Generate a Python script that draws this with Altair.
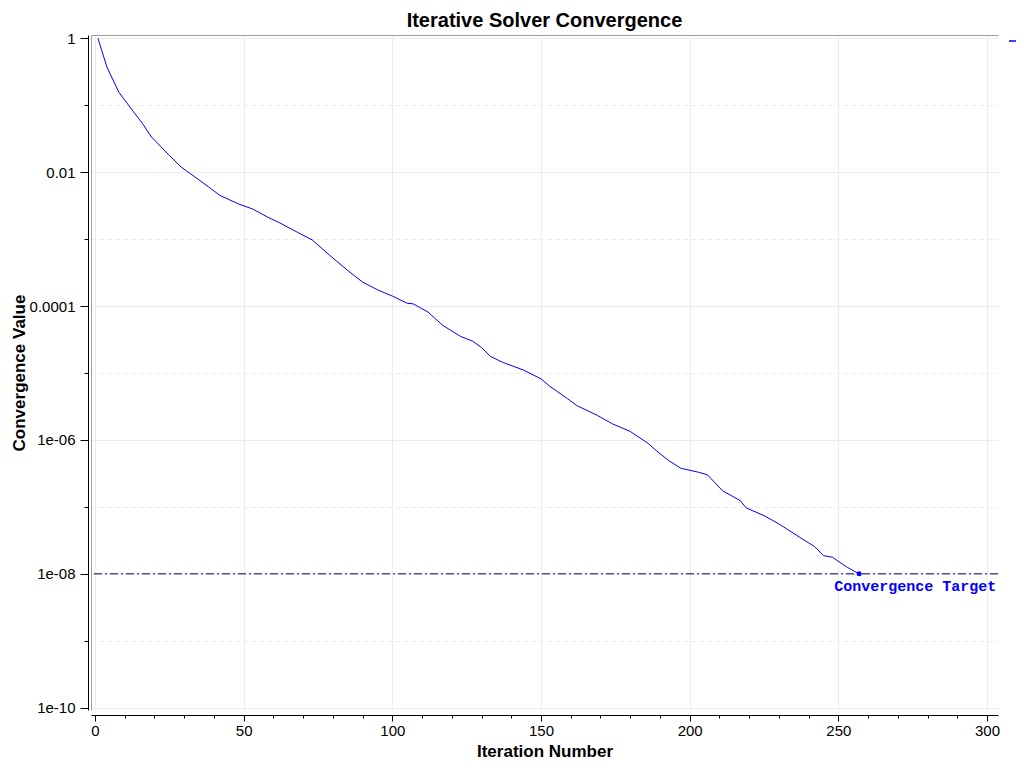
import math
import altair as alt
import pandas as pd

# ---- data ----
iterations = [1, 4, 8, 13, 16, 19, 25, 29, 36, 42,
              48, 53, 58, 62, 68, 73, 79, 85, 90, 95,
              100, 105, 107, 112, 117, 123, 127, 130, 133, 137,
              144, 150, 153, 159, 162, 169, 174, 180, 186, 189,
              193, 197, 203, 206, 211, 217, 219, 225, 230, 237,
              242, 245, 248, 253, 257]
values = [1.0, 0.372, 0.157, 0.0794, 0.0531, 0.0335, 0.0178, 0.0119, 0.00711, 0.0045,
          0.00339, 0.00282, 0.00214, 0.00176, 0.00127, 0.000977, 0.00057, 0.00034, 0.000228, 0.000175,
          0.000141, 0.00011, 0.000108, 8.13e-5, 5.13e-5, 3.51e-5, 2.99e-5, 2.4e-5, 1.77e-5, 1.45e-5,
          1.11e-5, 8.18e-6, 6.31e-6, 4.11e-6, 3.27e-6, 2.32e-6, 1.74e-6, 1.34e-6, 8.9e-7, 6.78e-7,
          4.9e-7, 3.78e-7, 3.29e-7, 3.01e-7, 1.75e-7, 1.24e-7, 9.66e-8, 7.41e-8, 5.57e-8, 3.52e-8,
          2.55e-8, 1.87e-8, 1.77e-8, 1.25e-8, 1.0e-8]

target_iteration = [257]
target_value = [1e-8]
target_label = ["Convergence Target"]

x_major_ticks = [0, 50, 100, 150, 200, 250, 300]
x_minor_ticks = [0, 10, 20, 30, 40, 50, 60, 70, 80, 90, 100, 110, 120, 130, 140, 150,
                 160, 170, 180, 190, 200, 210, 220, 230, 240, 250, 260, 270, 280, 290, 300]
y_major_ticks = [1, 1e-2, 1e-4, 1e-6, 1e-8, 1e-10]
y_major_labels = ["1", "0.01", "0.0001", "1e-06", "1e-08", "1e-10"]
y_minor_ticks = [1e-1, 1e-3, 1e-5, 1e-7, 1e-9]

# ---- tables ----
df = pd.DataFrame({"iteration": iterations, "value": values,
                   "series": ["residual"] * len(iterations)})
tgt = pd.DataFrame({"iteration": target_iteration, "value": target_value,
                    "label": target_label})

FONT = "Liberation Sans"
BLUE = "#0000ff"
GRID = "#ebebeb"

xs = alt.Scale(domain=[-1.345, 303.7], nice=False, zero=False)
ys = alt.Scale(type="log", domain=[9.24e-11, 1.12], nice=False)

exps = [round(math.log10(v)) for v in y_major_ticks]
label_expr = ("[" + ",".join(f"'{l}'" for l in y_major_labels) + "][indexof(["
              + ",".join(str(e) for e in exps) + "], round(log(datum.value)/LN10))]")

line = alt.Chart(df).mark_line(strokeWidth=1).encode(
    x=alt.X("iteration:Q", scale=xs,
            axis=alt.Axis(values=x_major_ticks, orient="bottom", offset=5, tickSize=6,
                          labelFontSize=15, labelFont=FONT, labelColor="black", labelPadding=2,
                          labelFlush=False,
                          title="Iteration Number", titleFontSize=17, titleFont=FONT,
                          titleFontWeight="bold", titleColor="black",
                          titleY=41, titleBaseline="alphabetic",
                          domainColor="black", tickColor="black",
                          grid=True, gridColor=GRID, gridWidth=1)),
    y=alt.Y("value:Q", scale=ys,
            axis=alt.Axis(values=y_major_ticks, orient="left", offset=3, tickSize=8,
                          labelExpr=label_expr, labelFontSize=15, labelFont=FONT,
                          labelColor="black", labelPadding=5, labelFlush=False,
                          title="Convergence Value", titleFontSize=17, titleFont=FONT,
                          titleFontWeight="bold", titleColor="black", titlePadding=1,
                          domainColor="black", tickColor="black",
                          grid=True, gridColor=GRID, gridWidth=1)),
    color=alt.Color("series:N", scale=alt.Scale(range=[BLUE]),
                    legend=alt.Legend(orient="none", legendX=917, legendY=1, title=None,
                                      labelExpr="''", symbolType="stroke", symbolSize=64,
                                      symbolStrokeWidth=1.5, padding=0)),
)

minor = alt.Chart(df).mark_point(opacity=0).encode(
    x=alt.X("iteration:Q", scale=xs,
            axis=alt.Axis(values=x_minor_ticks, orient="bottom", offset=5, tickSize=3,
                          labels=False, domain=False, grid=False, title=None,
                          tickColor="black")),
    y=alt.Y("value:Q", scale=ys,
            axis=alt.Axis(values=y_minor_ticks, orient="left", offset=3, tickSize=4,
                          labels=False, domain=False, grid=True, gridDash=[5, 3],
                          gridColor=GRID, title=None, tickColor="black")),
)

frame = alt.Chart(df).mark_point(opacity=0).encode(
    x=alt.X("iteration:Q", scale=xs,
            axis=alt.Axis(orient="top", offset=0, ticks=False, labels=False, grid=False,
                          title=None, domainColor="#a0a0a0")),
    y=alt.Y("value:Q", scale=ys,
            axis=alt.Axis(orient="left", offset=0, ticks=False, labels=False, grid=False,
                          title=None, domainColor="#a0a0a0")),
)

rule = alt.Chart(tgt).mark_rule(color="#000066", strokeDash=[8, 3, 2, 3], strokeWidth=1).encode(
    y=alt.Y("value:Q", scale=ys, axis=None)
)

point = alt.Chart(tgt).mark_circle(size=25, color=BLUE, opacity=1).encode(
    x=alt.X("iteration:Q", scale=xs, axis=None),
    y=alt.Y("value:Q", scale=ys, axis=None),
)

text = alt.Chart(tgt).mark_text(align="left", baseline="alphabetic", dx=-25, dy=17,
                                font="Liberation Mono", fontSize=15, fontWeight="bold",
                                color=BLUE).encode(
    x=alt.X("iteration:Q", scale=xs, axis=None),
    y=alt.Y("value:Q", scale=ys, axis=None),
    text="label:N",
)

chart = alt.layer(frame, minor, line, rule, point, text).resolve_axis(
    x="independent", y="independent"
).properties(
    width=907, height=675,
    title=alt.Title("Iterative Solver Convergence", fontSize=20, font=FONT,
                    fontWeight="bold", color="black", offset=0),
    autosize=alt.AutoSizeParams(type="none"),
    padding={"left": 83, "top": 27, "right": 18, "bottom": 50},
).configure_view(stroke=None)

chart.save("out.html", embed_options={"renderer": "svg", "actions": False})
